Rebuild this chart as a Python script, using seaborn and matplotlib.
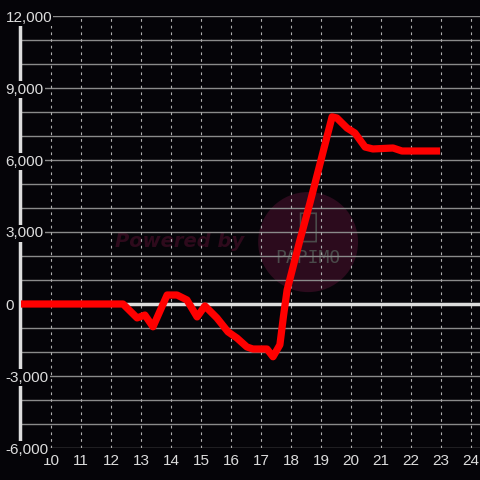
import numpy as np
import pandas as pd
import seaborn as sns
import matplotlib.pyplot as plt
from matplotlib.patches import Ellipse, FancyBboxPatch

# hour of day vs cumulative value
hours = [9.0, 12.4, 12.87, 13.13, 13.4, 13.87, 14.2, 14.53, 14.87, 15.13, 15.53,
         15.9, 16.2, 16.53, 16.73, 17.2, 17.4, 17.63, 17.75, 17.87, 18.3, 18.63,
         19.37, 19.53, 19.87, 20.13, 20.47, 20.73, 21.4, 21.7, 22.97]
values = [0, 0, -580, -460, -950, 375, 375, 170, -540, -80, -580,
          -1160, -1420, -1790, -1875, -1875, -2200, -1700, -500, 580, 2670, 4200,
          7800, 7750, 7330, 7125, 6540, 6460, 6500, 6375, 6375]

x_ticks = list(range(10, 25))
y_major = list(range(-6000, 12001, 3000))
y_minor = list(range(-6000, 12001, 1000))

df = pd.DataFrame({'hour': hours, 'value': values})

bg = '#050408'
sns.set_style('dark')
plt.rcParams['font.family'] = ['Liberation Sans', 'DejaVu Sans']

fig = plt.figure(figsize=(4.8, 4.8), dpi=100, facecolor=bg)
ax = fig.add_axes([20 / 480, 32 / 480, 460 / 480, 432 / 480])
ax.set_facecolor(bg)

# watermark (under the grid)
ax.add_patch(Ellipse((18.57, 2580), 3.33, 4170, facecolor='#2c0b1d',
                     edgecolor='none', zorder=0.6))
ax.text(18.57, 1900, 'PAPIMO', color='#4a4a4a', fontsize=13, ha='center',
        va='center', family='DejaVu Sans Mono', zorder=0.7)
ax.add_patch(FancyBboxPatch((18.32, 2600), 0.52, 1180,
                            boxstyle='round,pad=0,rounding_size=0.08',
                            facecolor='none', edgecolor='#4a4a4a', lw=1.2, zorder=0.7))
ax.text(14.3, 2600, 'Powered by', color='#2e0a1c', fontsize=14, ha='center',
        va='center', style='italic', weight='bold', family='DejaVu Sans', zorder=0.7)

# grid
for v in y_minor:
    ax.axhline(v, color='#8a8a8a', lw=1.0, zorder=1)
for h in x_ticks:
    ax.axvline(h, color='#b0b0b0', lw=0.8, ls=(0, (2.5, 3.5)), zorder=1)
ax.axhline(0, color='#dddddd', lw=2.5, zorder=2)

sns.lineplot(data=df, x='hour', y='value', ax=ax, color='#ff0000', lw=5.2,
             solid_joinstyle='round', solid_capstyle='butt', zorder=5)

ax.set_xlim(8.967, 24.3)
ax.set_ylim(-6000, 12000)
ax.set_xticks(x_ticks)
ax.set_xticklabels([str(h) for h in x_ticks])
ax.set_yticks(y_major)
ax.set_yticklabels([f'{v:,}' for v in y_major])
ax.tick_params(axis='x', colors='#dddddd', labelsize=11, length=0, pad=4)
ax.tick_params(axis='y', colors='#dddddd', labelsize=11, length=0, pad=10.5)
for lab in ax.get_yticklabels():
    lab.set_horizontalalignment('left')
    lab.set_bbox(dict(facecolor=bg, edgecolor='none', pad=1.0))
ax.yaxis.set_zorder(10)
ax.set_xlabel('')
ax.set_ylabel('')
ax.grid(False)

for s in ['top', 'right', 'bottom']:
    ax.spines[s].set_visible(False)
ax.spines['left'].set_color('#dddddd')
ax.spines['left'].set_linewidth(2.5)
ax.spines['left'].set_bounds(-6000, 11650)
ax.spines['left'].set_zorder(4)

fig.savefig('out.png', dpi=100, facecolor=bg)
